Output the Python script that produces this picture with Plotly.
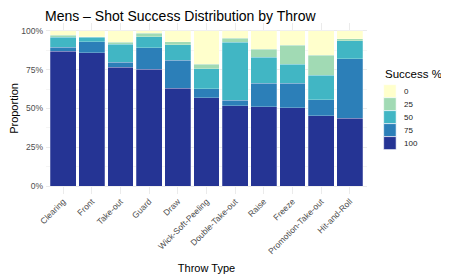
import plotly.graph_objects as go

throws = ["Clearing", "Front", "Take-out", "Guard", "Draw", "Wick-Soft-Peeling",
          "Double-Take-out", "Raise", "Freeze", "Promotion-Take-out", "Hit-and-Roll"]

s100 = [86.7, 85.9, 76.4, 75.4, 62.9, 56.8, 51.8, 51.2, 50.5, 45.2, 43.7]
s75 = [2.6, 7.0, 3.2, 13.7, 18.3, 5.8, 3.4, 15.0, 15.7, 10.5, 38.3]
s50 = [6.4, 2.8, 11.6, 7.0, 9.8, 13.0, 37.5, 16.9, 12.4, 15.6, 11.6]
s25 = [1.5, 0.6, 1.3, 2.4, 1.9, 3.0, 2.6, 4.9, 12.0, 12.8, 1.3]
s0 = [2.8, 3.7, 7.5, 1.5, 7.1, 21.4, 4.7, 12.0, 9.4, 15.9, 5.1]

levels = ["100", "75", "50", "25", "0"]
series = [s100, s75, s50, s25, s0]
colors = ["#253494", "#2c7fb8", "#41b6c4", "#a1dab4", "#ffffcc"]

# page has an 8px body margin; figure sized to fit the window
W, H = 441, 272
ML, MR, MT, MB = 37.5, 81.7, 15.2, 85.5
PW, PH = W - ML - MR, H - MT - MB


def px_x(x):
    return (x - ML) / PW


def px_y(y):
    return 1 - (y - MT) / PH


fig = go.Figure()
for lev, vals, col in zip(levels, series, colors):
    fig.add_trace(go.Bar(
        x=throws, y=[v / 100 for v in vals], name=lev, showlegend=False,
        marker=dict(color=col, line=dict(width=0.4, color="rgba(255,255,255,0.6)")),
    ))

# compact ggplot-style legend
shapes = []
annotations = []
top_px = 77
step = 13
for i, (lev, col) in enumerate(zip(levels[::-1], colors[::-1])):
    y0 = top_px + i * step
    shapes.append(dict(type="rect", xref="paper", yref="paper",
                       x0=px_x(376), x1=px_x(388.5), y0=px_y(y0), y1=px_y(y0 + step),
                       fillcolor=col, line=dict(width=0.6, color="white"), layer="above"))
    annotations.append(dict(xref="paper", yref="paper", x=px_x(394), y=px_y(y0 + step / 2),
                            text=lev, showarrow=False, xanchor="left", yanchor="middle",
                            font=dict(size=8, color="#1a1a1a")))
annotations.append(dict(xref="paper", yref="paper", x=px_x(375), y=px_y(66),
                        text="Success %", showarrow=False, xanchor="left", yanchor="middle",
                        font=dict(size=11.5, color="#000000")))

fig.update_layout(
    barmode="stack", bargap=0.1,
    width=W, height=H,
    margin=dict(l=ML, r=MR, t=MT, b=MB),
    plot_bgcolor="white", paper_bgcolor="white",
    showlegend=False,
    shapes=shapes, annotations=annotations,
    font=dict(family="Liberation Sans, Arial, sans-serif", color="#000000"),
    title=dict(text="Mens – Shot Success Distribution by Throw", x=37 / W, xanchor="left",
               y=1 - 8 / H, yanchor="middle", font=dict(size=14, color="#000000")),
    xaxis=dict(
        range=[-0.6, 10.6], tickangle=-45, tickfont=dict(size=8.5, color="#4d4d4d"),
        showgrid=True, gridcolor="#ebebeb", gridwidth=1, ticks="", zeroline=False,
        automargin=False,
        title=dict(text="Throw Type", font=dict(size=11), standoff=9),
    ),
    yaxis=dict(
        range=[-0.05, 1.05], tickvals=[0, 0.25, 0.5, 0.75, 1.0],
        ticktext=["0%", "25%", "50%", "75%", "100%"],
        tickfont=dict(size=8.5, color="#4d4d4d"), ticklabelstandoff=2,
        showgrid=True, gridcolor="#ebebeb", gridwidth=1, zeroline=False, ticks="",
        automargin=False,
        minor=dict(tickvals=[0.125, 0.375, 0.625, 0.875], showgrid=True, gridcolor="#f5f5f5", gridwidth=0.5),
        title=dict(text="Proportion", font=dict(size=11), standoff=2),
    ),
)

fig.write_html("out.html")
